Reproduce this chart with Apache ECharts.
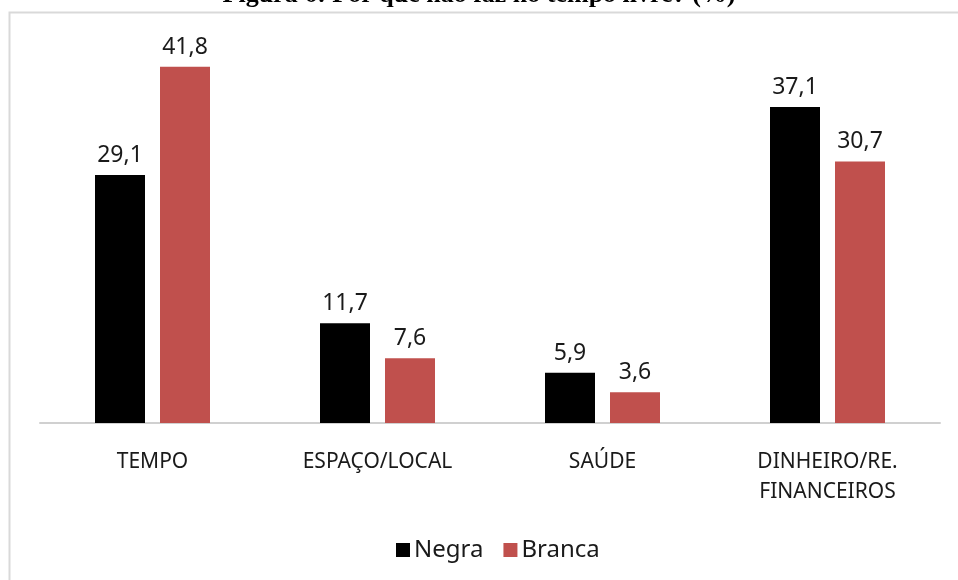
<!DOCTYPE html>
<html>
<head>
<meta charset="utf-8">
<script src="https://cdn.jsdelivr.net/npm/echarts@6/dist/echarts.min.js"></script>
<style>
  html, body { margin: 0; padding: 0; background: #fff; }
  #chart { width: 958px; height: 580px; }
</style>
</head>
<body>
<div id="chart"></div>
<script>
const categories = ['TEMPO', 'ESPAÇO/LOCAL', 'SAÚDE', 'DINHEIRO/RE.\nFINANCEIROS'];
const negra = [29.1, 11.7, 5.9, 37.1];
const branca = [41.8, 7.6, 3.6, 30.7];

const font = '"Noto Sans", "Open Sans", sans-serif';
const chart = echarts.init(document.getElementById('chart'));

const valueLabel = {
  show: true,
  position: 'top',
  distance: 8,
  color: '#1a1a1a',
  fontSize: 23,
  fontFamily: font,
  formatter: p => String(p.value).replace('.', ',')
};

chart.setOption({
  animation: false,
  title: {
    text: 'Figura 6: Por que não faz no tempo livre? (%)',
    left: 'center',
    top: -23,
    textStyle: { fontFamily: '"Liberation Serif", serif', fontWeight: 'bold', fontSize: 26, color: '#000' }
  },
  graphic: [{
    type: 'rect',
    shape: { x: 9.5, y: 12.5, width: 960, height: 580 },
    style: { fill: 'none', stroke: '#d9d9d9', lineWidth: 2 },
    silent: true
  }],
  legend: {
    bottom: 13,
    left: 391,
    itemWidth: 14,
    itemHeight: 14,
    itemGap: 20,
    icon: 'rect',
    textStyle: { fontFamily: font, fontSize: 24, color: '#1a1a1a', padding: [0, 0, 0, -1] },
    data: ['Negra', 'Branca']
  },
  grid: { left: 40, right: 18, top: 39.6, bottom: 157 },
  xAxis: {
    type: 'category',
    data: categories,
    axisTick: { show: false },
    axisLine: { lineStyle: { color: '#d0d0d0', width: 2 } },
    axisLabel: { fontFamily: font, fontSize: 21, color: '#1a1a1a', margin: 24, lineHeight: 30, interval: 0 }
  },
  yAxis: {
    type: 'value',
    min: 0,
    max: 45,
    show: false,
    splitLine: { show: false }
  },
  series: [
    { name: 'Negra', type: 'bar', data: negra, barWidth: 50, barGap: '30%', itemStyle: { color: '#000000' }, label: valueLabel },
    { name: 'Branca', type: 'bar', data: branca, barWidth: 50, itemStyle: { color: '#C0504D' }, label: valueLabel }
  ]
});
</script>
</body>
</html>
